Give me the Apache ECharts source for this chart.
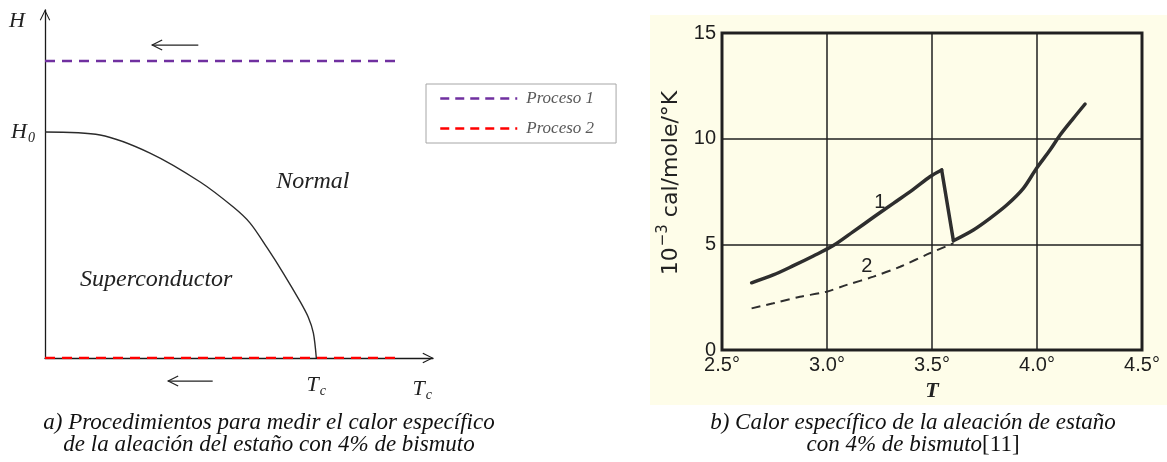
<!DOCTYPE html>
<html>
<head>
<meta charset="utf-8">
<script src="https://cdn.jsdelivr.net/npm/echarts@6/dist/echarts.min.js"></script>
<style>
  html, body { margin: 0; padding: 0; background: #fff; }
  #chart { width: 1167px; height: 462px; }
</style>
</head>
<body>
<div id="chart"></div>
<script>
// a) phase diagram, T/Tc against H/H0
const phaseT = [0, 0.203, 0.387, 0.572, 0.694, 0.756, 0.819, 0.878, 0.941, 0.970, 0.989, 1.0];
const phaseH = [1.0, 0.987, 0.907, 0.779, 0.668, 0.597, 0.487, 0.376, 0.248, 0.181, 0.111, 0];
const procesoT = [0, 1.29];
const proceso1H = [1.314, 1.314];
const proceso2H = [0, 0];

// b) specific heat, T in K against 10^-3 cal/mole/K
const heatT1 = [2.641, 2.744, 2.840, 2.935, 3.030, 3.125, 3.221, 3.316, 3.411, 3.490, 3.546,
                3.602, 3.697, 3.776, 3.856, 3.935, 3.998, 4.062, 4.110, 4.173, 4.229];
const heatC1 = [3.18, 3.55, 3.99, 4.45, 4.94, 5.60, 6.28, 6.94, 7.60, 8.20, 8.52,
                5.17, 5.68, 6.23, 6.86, 7.65, 8.60, 9.46, 10.17, 10.96, 11.64];
const heatT2 = [2.641, 2.744, 2.871, 2.998, 3.094, 3.221, 3.348, 3.490, 3.602];
const heatC2 = [1.97, 2.21, 2.52, 2.76, 3.08, 3.47, 3.94, 4.58, 5.05];
const heatXLabels = ['2.5°', '3.0°', '3.5°', '4.0°', '4.5°'];
const heatYLabels = ['0', '5', '10', '15'];
const peakIdx = 10;   // last point before the jump down

const legendNames = ['Proceso 1', 'Proceso 2'];
const captionA = ['a) Procedimientos para medir el calor específico', 'de la aleación del estaño con 4% de bismuto'];
const captionB = ['b) Calor específico de la aleación de estaño', 'con 4% de bismuto'];

const zip = (xs, ys) => xs.map((x, i) => [x, ys[i]]);

const serif = 'Liberation Serif';
const sans = 'Liberation Sans';
const chevron = 'path://M0,10 L5,0 L10,10 L9.1,10.6 L5,2.1 L0.9,10.6 Z';

const mathRich = {
  i: {fontFamily: serif, fontStyle: 'italic', fontSize: 22, color: '#222'},
  s: {fontFamily: serif, fontStyle: 'italic', fontSize: 14, color: '#222', padding: [12, 0, 0, 1]}
};

const heat1 = zip(heatT1, heatC1);
const heatLine = {color: '#2e2e2e', width: 3.5, cap: 'round', join: 'round'};

const chart = echarts.init(document.getElementById('chart'));

chart.setOption({
  animation: false,
  grid: [
    {left: 45, top: 10, width: 388, height: 348},
    {left: 722, top: 33, width: 420, height: 317, show: true, borderColor: '#262626', borderWidth: 3}
  ],
  legend: {
    data: legendNames,
    orient: 'vertical',
    left: 426,
    top: 84,
    padding: [6, 22, 6, 13],
    itemGap: 13,
    itemWidth: 77,
    itemHeight: 14,
    borderColor: '#a6a6a6',
    borderWidth: 1,
    selectedMode: false,
    itemStyle: {color: 'rgba(0,0,0,0)', borderWidth: 0},
    lineStyle: {width: 2.5, type: [9, 6]},
    textStyle: {fontFamily: serif, fontStyle: 'italic', fontSize: 17, color: '#595959', padding: [0, 0, 0, 4]}
  },
  xAxis: [
    {
      gridIndex: 0, type: 'value', min: 0, max: 1.43, interval: 1,
      splitLine: {show: false}, axisTick: {show: false},
      axisLine: {lineStyle: {color: '#1a1a1a', width: 1.3}, symbol: ['none', chevron], symbolSize: [11, 11], symbolOffset: [0, -5]},
      axisLabel: {showMaxLabel: false, margin: 14, rich: mathRich,
        formatter: v => v === 1 ? '{i|T}{s|c}' : ''},
      name: '{i|T}{s|c}', nameLocation: 'end', nameGap: -1,
      nameTextStyle: {align: 'right', verticalAlign: 'top', padding: [18, 0, 0, 0], rich: mathRich}
    },
    {
      gridIndex: 1, type: 'value', min: 2.5, max: 4.5, interval: 0.5,
      axisLine: {show: false}, axisTick: {show: false},
      splitLine: {show: true, lineStyle: {color: '#1f1f1f', width: 1.5}},
      axisLabel: {margin: 5, color: '#1e1e1e', fontSize: 20, fontFamily: sans,
        formatter: v => heatXLabels[Math.round((v - 2.5) / 0.5)]},
      name: 'T', nameLocation: 'middle', nameGap: 25,
      nameTextStyle: {fontFamily: serif, fontStyle: 'italic', fontWeight: 'bold', fontSize: 22, color: '#222'}
    }
  ],
  yAxis: [
    {
      gridIndex: 0, type: 'value', min: 0, max: 1.54, interval: 1,
      splitLine: {show: false}, axisTick: {show: false},
      axisLine: {show: true, lineStyle: {color: '#1a1a1a', width: 1.3}, symbol: ['none', chevron], symbolSize: [11, 11], symbolOffset: [0, -5]},
      axisLabel: {showMaxLabel: false, margin: 10, rich: mathRich,
        formatter: v => v === 1 ? '{i|H}{s|0}' : ''},
      name: 'H', nameLocation: 'end', nameGap: 0,
      nameTextStyle: {fontFamily: serif, fontStyle: 'italic', fontSize: 22, color: '#222', align: 'right', verticalAlign: 'top', padding: [0, 20, 0, 0]}
    },
    {
      gridIndex: 1, type: 'value', min: 0, max: 15, interval: 5,
      axisLine: {show: false}, axisTick: {show: false},
      splitLine: {show: true, lineStyle: {color: '#1f1f1f', width: 1.5}},
      axisLabel: {margin: 6, color: '#1e1e1e', fontSize: 20, fontFamily: sans,
        formatter: v => heatYLabels[Math.round(v / 5)]},
      name: '{a|10}{b|−3}{a| cal/mole/°K}', nameLocation: 'middle', nameGap: 36, nameRotate: 90,
      nameTextStyle: {padding: [0, 0, 0, 17], rich: {
        a: {fontFamily: 'DejaVu Sans', fontSize: 22, color: '#222'},
        b: {fontFamily: 'DejaVu Sans', fontSize: 15, color: '#222', padding: [0, 0, 15, 1]}
      }}
    }
  ],
  series: [
    {name: 'Frontera', type: 'line', xAxisIndex: 0, yAxisIndex: 0, data: zip(phaseT, phaseH),
      symbol: 'none', smooth: 0.3, lineStyle: {color: '#2b2b2b', width: 1.4}},
    {name: 'Proceso 1', type: 'line', xAxisIndex: 0, yAxisIndex: 0, data: zip(procesoT, proceso1H),
      symbol: 'none', color: '#7030a0', lineStyle: {color: '#7030a0', width: 2.6, type: [10, 7]}},
    {name: 'Proceso 2', type: 'line', xAxisIndex: 0, yAxisIndex: 0, data: zip(procesoT, proceso2H),
      symbol: 'none', color: '#ff0000', lineStyle: {color: '#ff0000', width: 2.6, type: [10, 7]}},
    // curve 1 in three pieces so the jump keeps its sharp corners
    {name: '1', type: 'line', xAxisIndex: 1, yAxisIndex: 1, data: heat1.slice(0, peakIdx + 1),
      symbol: 'none', smooth: 0.3, lineStyle: heatLine},
    {name: '1b', type: 'line', xAxisIndex: 1, yAxisIndex: 1, data: heat1.slice(peakIdx, peakIdx + 2),
      symbol: 'none', lineStyle: heatLine},
    {name: '1c', type: 'line', xAxisIndex: 1, yAxisIndex: 1, data: heat1.slice(peakIdx + 1),
      symbol: 'none', smooth: 0.3, lineStyle: heatLine},
    {name: '2', type: 'line', xAxisIndex: 1, yAxisIndex: 1, data: zip(heatT2, heatC2),
      symbol: 'none', smooth: 0.3, lineStyle: {color: '#2e2e2e', width: 2, type: [9, 6]}}
  ]
});

// annotations placed through the axes
const px0 = p => chart.convertToPixel({xAxisIndex: 0, yAxisIndex: 0}, p);
const px1 = p => chart.convertToPixel({xAxisIndex: 1, yAxisIndex: 1}, p);

const arrows = [
  {from: [0.565, 1.385], to: [0.395, 1.385]},
  {from: [0.618, -0.102], to: [0.454, -0.102]}
];
const phaseNotes = [
  {text: 'Normal', at: [0.987, 0.779]},
  {text: 'Superconductor', at: [0.41, 0.345]}
];
const heatNotes = [
  {text: '1', at: [3.252, 7.0]},
  {text: '2', at: [3.19, 3.93]}
];

const graphic = [
  {type: 'rect', z: -10, silent: true, shape: {x: 650, y: 15, width: 517, height: 390}, style: {fill: '#fefde9'}}
];

arrows.forEach(a => {
  const f = px0(a.from), t = px0(a.to);
  const dx = f[0] - t[0], dy = f[1] - t[1];
  const len = Math.hypot(dx, dy), ux = dx / len, uy = dy / len;
  const head = 10, half = 5;
  graphic.push({type: 'polyline', shape: {points: [f, t]}, style: {stroke: '#222', lineWidth: 1.2, fill: null}});
  graphic.push({type: 'polyline', shape: {points: [
    [t[0] + ux * head - uy * half, t[1] + uy * head + ux * half], t,
    [t[0] + ux * head + uy * half, t[1] + uy * head - ux * half]
  ]}, style: {stroke: '#222', lineWidth: 1.2, fill: null}});
});

phaseNotes.forEach(n => {
  const p = px0(n.at);
  graphic.push({type: 'text', x: p[0], y: p[1], style: {text: n.text, fontFamily: serif, fontStyle: 'italic',
    fontSize: 24, fill: '#222', align: 'center', verticalAlign: 'middle'}});
});

heatNotes.forEach(n => {
  const p = px1(n.at);
  graphic.push({type: 'text', x: p[0], y: p[1], style: {text: n.text, fontFamily: sans,
    fontSize: 20, fill: '#222', align: 'center', verticalAlign: 'middle'}});
});

captionA.forEach((line, i) => {
  graphic.push({type: 'text', x: 269, y: 423 + i * 22, style: {text: line, fontFamily: serif, fontStyle: 'italic',
    fontSize: 23, fill: '#111', align: 'center', verticalAlign: 'middle'}});
});
graphic.push({type: 'text', x: 913, y: 423, style: {text: captionB[0], fontFamily: serif, fontStyle: 'italic',
  fontSize: 23, fill: '#111', align: 'center', verticalAlign: 'middle'}});
graphic.push({type: 'text', x: 913, y: 445, style: {
  text: '{it|' + captionB[1] + '}{up|[11]}', align: 'center', verticalAlign: 'middle',
  rich: {
    it: {fontFamily: serif, fontStyle: 'italic', fontSize: 23, fill: '#111'},
    up: {fontFamily: serif, fontSize: 23, fill: '#111'}
  }}});

chart.setOption({graphic: graphic});
</script>
</body>
</html>
